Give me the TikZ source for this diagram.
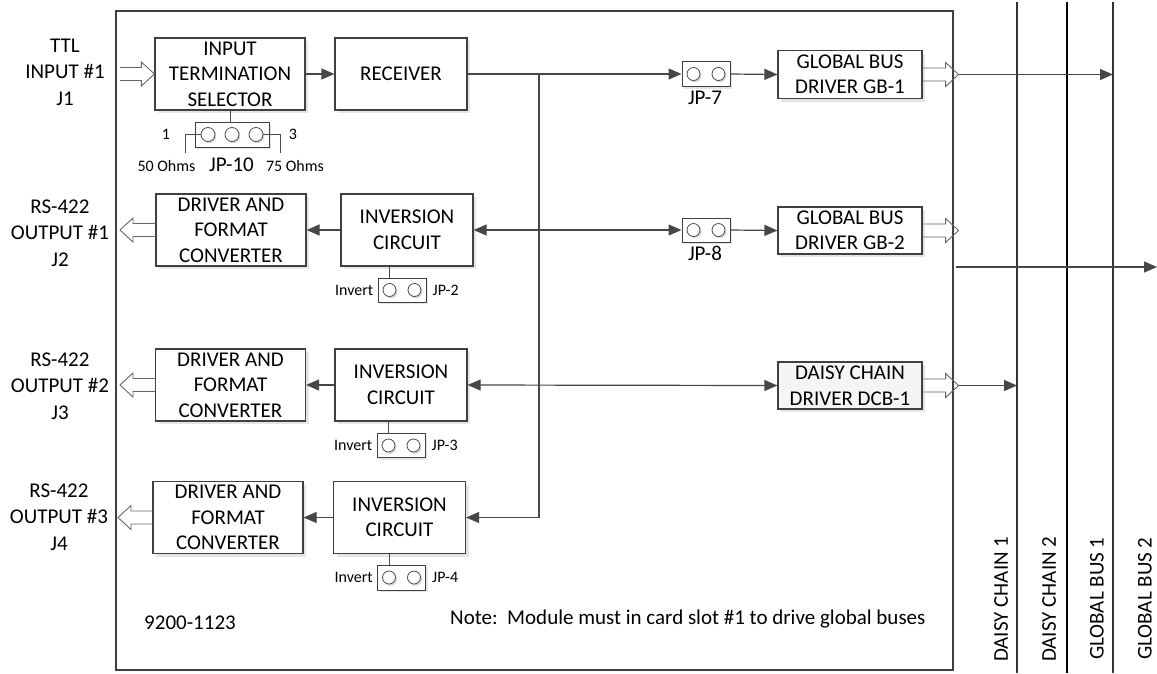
\documentclass[tikz,border=0pt]{standalone}
\usepackage{fontspec}
\setmainfont{Carlito}
\usetikzlibrary{arrows.meta,calc,shadows}
\tikzset{
  box/.style={draw=black!75, line width=1.2pt, fill=white, inner sep=0pt, align=center,
    font=\fontsize{21}{25.5}\selectfont,
    general shadow={fill=black!10, shadow xshift=3pt, shadow yshift=-3pt}},
  jbox/.style={draw=black!75, line width=1pt, fill=white, inner sep=0pt, minimum height=25pt,
    general shadow={fill=black!10, shadow xshift=2pt, shadow yshift=-2pt}},
  lbl/.style={inner sep=0pt, align=center, font=\fontsize{21}{26.5}\selectfont},
  small/.style={inner sep=0pt, font=\fontsize{16}{18}\selectfont},
  conn/.style={draw=black!72, line width=1.2pt, -{Triangle[length=13pt,width=11pt]}},
  bidir/.style={draw=black!72, line width=1.2pt, {Triangle[length=13pt,width=11pt]}-{Triangle[length=13pt,width=11pt]}},
  wire/.style={draw=black!70, line width=1pt},
  hollow/.style={draw=black!60, line width=0.9pt},
  bus/.style={draw=black!80, line width=1.5pt},
  pin/.style={draw=black!70, line width=0.8pt, fill=white},
  pinshadow/.style={fill=black!15, draw=none}
}
\newcommand{\hollowright}[2]{\draw[hollow] ($(#1)+(0,-6.5)$) -- ($(#2)+(-13,-6.5)$) -- ($(#2)+(-13,-12)$) -- (#2) -- ($(#2)+(-13,12)$) -- ($(#2)+(-13,6.5)$) -- ($(#1)+(0,6.5)$);}
\newcommand{\hollowleft}[2]{\draw[hollow] ($(#1)+(0,-6.5)$) -- ($(#2)+(13,-6.5)$) -- ($(#2)+(13,-12)$) -- (#2) -- ($(#2)+(13,12)$) -- ($(#2)+(13,6.5)$) -- ($(#1)+(0,6.5)$);}
\newcommand{\pinpair}[1]{%
  \fill[pinshadow] ($(#1.center)+(-11,1.8)$) circle (6.5pt);
  \fill[pinshadow] ($(#1.center)+(14,1.8)$) circle (6.5pt);
  \draw[pin] ($(#1.center)+(-12.5,0)$) circle (6.5pt);
  \draw[pin] ($(#1.center)+(12.5,0)$) circle (6.5pt);}
\begin{document}
\begin{tikzpicture}[x=1pt,y=-1pt]
\useasboundingbox (0,0) rectangle (1157,673);

% module outline
\node[draw=black!75, line width=2.5pt, minimum width=837pt, minimum height=659pt, inner sep=0pt] (module) at (534.5,340.5) {};

% bus lines
\coordinate (b1t) at (1017,2); \coordinate (b1b) at (1017,673);
\coordinate (b2t) at (1067,2); \coordinate (b2b) at (1067,673);
\coordinate (b3t) at (1113,2); \coordinate (b3b) at (1113,673);
\draw[bus] (b1t) -- (b1b);
\draw[bus, draw=black] (b2t) -- (b2b);
\draw[bus] (b3t) -- (b3b);

% row 1
\node[box, minimum width=150pt, minimum height=72pt] (sel) at (230,74) {INPUT\\TERMINATION\\SELECTOR};
\node[box, minimum width=132pt, minimum height=72pt] (rec) at (401,74) {RECEIVER};
\node[jbox, minimum width=48pt] (jp7) at (706,74) {};
\node[box, minimum width=144pt, minimum height=48pt] (gb1) at (850,74.5) {GLOBAL BUS\\DRIVER GB-1};
\node[jbox, minimum width=74pt] (jp10) at (232,134.5) {};

% row 2
\node[box, minimum width=150pt, minimum height=72pt] (dfc1) at (231,230) {DRIVER AND\\FORMAT\\CONVERTER};
\node[box, minimum width=132pt, minimum height=72pt] (inv1) at (407,230) {INVERSION\\CIRCUIT};
\node[jbox, minimum width=48pt, minimum height=24pt] (jp2) at (402,290) {};
\node[jbox, minimum width=48pt, minimum height=24pt] (jp8) at (706,230) {};
\node[box, minimum width=144pt, minimum height=47pt] (gb2) at (850,230.5) {GLOBAL BUS\\DRIVER GB-2};

% row 3
\node[box, minimum width=150pt, minimum height=72pt] (dfc2) at (230.5,385) {DRIVER AND\\FORMAT\\CONVERTER};
\node[box, minimum width=132pt, minimum height=72pt] (inv2) at (401,385) {INVERSION\\CIRCUIT};
\node[jbox, minimum width=48pt, minimum height=24pt] (jp3) at (401,445.5) {};
\node[box, fill=black!4, minimum width=144pt, minimum height=47pt] (dcb) at (850,385.5) {DAISY CHAIN\\DRIVER DCB-1};

% row 4
\node[box, minimum width=150pt, minimum height=72pt] (dfc3) at (228,517.5) {DRIVER AND\\FORMAT\\CONVERTER};
\node[box, minimum width=132pt, minimum height=72pt] (inv3) at (399.5,517.5) {INVERSION\\CIRCUIT};
\node[jbox, minimum width=48pt] (jp4) at (401.5,577.5) {};

% jumper pins
\pinpair{jp7}
\pinpair{jp8}
\pinpair{jp2}
\pinpair{jp3}
\pinpair{jp4}
\foreach \dx in {-24,0,24} {
  \fill[pinshadow] ($(jp10.center)+(\dx+1.5,1.8)$) circle (7pt);
  \draw[pin] ($(jp10.center)+(\dx,0)$) circle (7pt);
}

% left labels
\node[lbl] (ttl) at (65,72) {TTL\\INPUT \#1\\J1};
\node[lbl] (out1) at (60,233) {RS-422\\OUTPUT \#1\\J2};
\node[lbl] (out2) at (60,386) {RS-422\\OUTPUT \#2\\J3};
\node[lbl] (out3) at (59,517) {RS-422\\OUTPUT \#3\\J4};

% hollow arrows (left side)
\coordinate (in1) at (120,74);
\hollowright{in1}{sel.west}
\coordinate (o1t) at (120,230);
\hollowleft{dfc1.west}{o1t}
\coordinate (o2t) at (120,385);
\hollowleft{dfc2.west}{o2t}
\coordinate (o3t) at (118,517.5);
\hollowleft{dfc3.west}{o3t}

% hollow arrows (right side)
\coordinate (gb1tip) at ($(gb1.east)+(36,0)$);
\hollowright{gb1.east}{gb1tip}
\coordinate (gb2tip) at ($(gb2.east)+(36,0)$);
\hollowright{gb2.east}{gb2tip}
\coordinate (dcbtip) at ($(dcb.east)+(36,0)$);
\hollowright{dcb.east}{dcbtip}

% connectors
\draw[conn] (sel.east) -- (rec.west);
\draw[conn] (rec.east) -- (jp7.west);
\draw[conn] (jp7.east) -- (gb1.west);
\coordinate (tr) at (539,74);
\draw[conn] (tr) |- (inv3.east);
\draw[conn] (inv1.west) -- (dfc1.east);
\draw[bidir] (inv1.east) -- (jp8.west);
\draw[conn] (jp8.east) -- (gb2.west);
\draw[conn] (inv2.west) -- (dfc2.east);
\draw[bidir] (inv2.east) -- (dcb.west);
\draw[conn] (inv3.west) -- (dfc3.east);

% to the buses
\draw[conn] (gb1tip) -- (gb1tip -| b3t);
\coordinate (gb2s) at (956,267); \coordinate (gb2e) at (1157,267);
\draw[conn] (gb2s) -- (gb2e);
\draw[conn] (dcbtip) -- (dcbtip -| b1t);

% jumper wires
\draw[wire] (sel.south) -- (sel.south |- jp10.north);
\draw[wire] ($(jp2.north)+(-12.5,0)$) coordinate (c2) -- (c2 |- inv1.south);
\draw[wire] ($(jp3.north)+(-12.5,0)$) coordinate (c3) -- (c3 |- inv2.south);
\draw[wire] ($(jp4.north)+(-12.5,0)$) coordinate (c4) -- (c4 |- inv3.south);
\draw[wire] ($(jp10.center)+(-31,0)$) -- ++(-16,0) -- ++(0,18);
\draw[wire] ($(jp10.center)+(31,0)$) -- ++(17,0) -- ++(0,18);

% jumper labels
\node[small] (p1) at (166,134) {1};
\node[small] (p3) at (293,134) {3};
\node[small] (ohm50) at (166.5,166) {50 Ohms};
\node[lbl] (jp10l) at (231.5,165) {JP-10};
\node[small] (ohm75) at (295,166) {75 Ohms};
\node[lbl] (jp7l) at (705,98) {JP-7};
\node[lbl] (jp8l) at (705,253) {JP-8};
\node[small, anchor=east] (inv1l) at ($(jp2.west)+(-4,0)$) {Invert};
\node[small, anchor=west] (jp2l) at ($(jp2.east)+(6,0)$) {JP-2};
\node[small, anchor=east] (inv2l) at ($(jp3.west)+(-4,0)$) {Invert};
\node[small, anchor=west] (jp3l) at ($(jp3.east)+(6,0)$) {JP-3};
\node[small, anchor=east] (inv3l) at ($(jp4.west)+(-4,0)$) {Invert};
\node[small, anchor=west] (jp4l) at ($(jp4.east)+(6,0)$) {JP-4};

% notes
\node[lbl] (pn) at (190,623) {9200-1123};
\node[lbl, anchor=west] (note) at (450,619) {Note:\ \ Module must in card slot \#1 to drive global buses};

% bus labels
\node[lbl, rotate=90, anchor=west] (dc1) at (1001,662) {DAISY CHAIN 1};
\node[lbl, rotate=90, anchor=west] (dc2) at (1049,662) {DAISY CHAIN 2};
\node[lbl, rotate=90, anchor=west] (gbl1) at (1097,660) {GLOBAL BUS 1};
\node[lbl, rotate=90, anchor=west] (gbl2) at (1145,660) {GLOBAL BUS 2};
\end{tikzpicture}
\end{document}
